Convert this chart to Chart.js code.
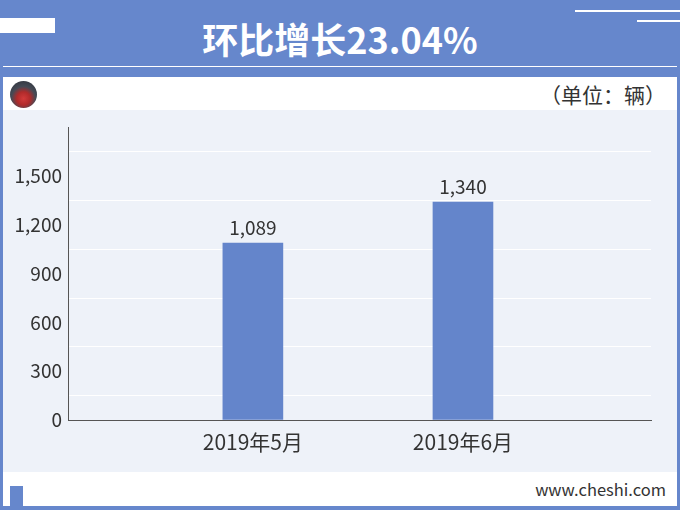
<!DOCTYPE html>
<html>
<head>
<meta charset="utf-8">
<script src="https://cdn.jsdelivr.net/npm/chart.js@4/dist/chart.umd.min.js"></script>
<style>
  body { margin: 0; width: 680px; height: 510px; background: #6687cc; position: relative; overflow: hidden; font-family: "Noto Sans CJK SC", sans-serif; }
  .abs { position: absolute; }
  .title { top: 13px; left: 0; width: 680px; text-align: center; color: #fff; font-size: 36px; font-weight: bold; line-height: 50px; }
  .tag { left: 0; top: 18px; width: 55px; height: 15px; background: #fff; }
  .line1 { left: 575px; top: 10px; width: 105px; height: 2px; background: #fff; }
  .line2 { left: 637px; top: 20px; width: 43px; height: 2px; background: #fff; }
  .rule { left: 3px; top: 66px; width: 674px; height: 1px; background: #fff; }
  .panel { left: 3px; top: 77px; width: 674px; height: 429px; background: #fff; }
  .plot { left: 3px; top: 110px; width: 674px; height: 362px; background: #eef2f9; }
  .logo { left: 10px; top: 81px; width: 27px; height: 27px; border-radius: 50%;
          background: radial-gradient(circle at 50% 65%, #d23a3a 0, #b02a2a 30%, #454a55 55%, #2a2e36 100%); }
  .unit { right: 14px; top: 79px; font-size: 21px; color: #333; line-height: 30px; }
  .site { right: 14px; top: 476px; font-size: 16.5px; color: #333; line-height: 26px; }
  .mark { left: 10px; top: 486px; width: 13px; height: 20px; background: #6687cc; }
</style>
</head>
<body>
<div class="abs tag"></div>
<div class="abs line1"></div>
<div class="abs line2"></div>
<div class="abs title">环比增长23.04%</div>
<div class="abs rule"></div>
<div class="abs panel"></div>
<div class="abs plot"><canvas id="chart" width="674" height="362"></canvas></div>
<div class="abs logo"></div>
<div class="abs unit">（单位：辆）</div>
<div class="abs site">www.cheshi.com</div>
<div class="abs mark"></div>
<script>
const months = ['2019年5月', '2019年6月'];
const sales = [1089, 1340];
const yTicks = [0, 300, 600, 900, 1200, 1500];

// value above each bar
const valueLabels = {
  id: 'valueLabels',
  afterDatasetsDraw(chart) {
    const ctx = chart.ctx;
    const meta = chart.getDatasetMeta(0);
    ctx.save();
    ctx.font = '19px "Noto Sans CJK SC"';
    ctx.fillStyle = '#333';
    ctx.textAlign = 'center';
    ctx.textBaseline = 'bottom';
    meta.data.forEach(function (bar, i) {
      ctx.fillText(sales[i].toLocaleString('en-US'), bar.x, bar.y - 6);
    });
    ctx.restore();
  }
};

const ctx = document.getElementById('chart').getContext('2d');
new Chart(ctx, {
  type: 'bar',
  data: {
    datasets: [{
      data: sales.map(function (v, i) { return { x: i, y: v }; }),
      backgroundColor: '#6485cb',
      barThickness: 60
    }]
  },
  plugins: [valueLabels],
  options: {
    responsive: false,
    animation: false,
    layout: { padding: { top: 13, right: 26, left: 0, bottom: 0 } },
    plugins: { legend: { display: false }, tooltip: { enabled: false } },
    scales: {
      x: {
        type: 'linear',
        offset: false,
        min: -0.88,
        max: 1.895,
        afterBuildTicks: function (s) { s.ticks = months.map(function (m, i) { return { value: i }; }); },
        afterFit: function (s) { s.height = 52; },
        grid: { display: false, offset: false },
        border: { color: '#555' },
        ticks: {
          callback: function (v) { return months[v]; },
          font: { size: 21, family: '"Noto Sans CJK SC"' },
          color: '#333',
          padding: 1
        }
      },
      y: {
        min: 0,
        max: 1800,
        afterFit: function (s) { s.width = 65; },
        border: { color: '#555' },
        grid: {
          drawTicks: false,
          color: function (c) { return c.tick && c.tick.value % 300 === 150 ? '#ffffff' : 'rgba(0,0,0,0)'; }
        },
        ticks: {
          stepSize: 150,
          autoSkip: false,
          padding: 6,
          font: { size: 19, family: '"Noto Sans CJK SC"' },
          color: '#333',
          callback: function (v) { return yTicks.includes(v) ? v.toLocaleString('en-US') : ''; }
        }
      }
    }
  }
});
</script>
</body>
</html>
